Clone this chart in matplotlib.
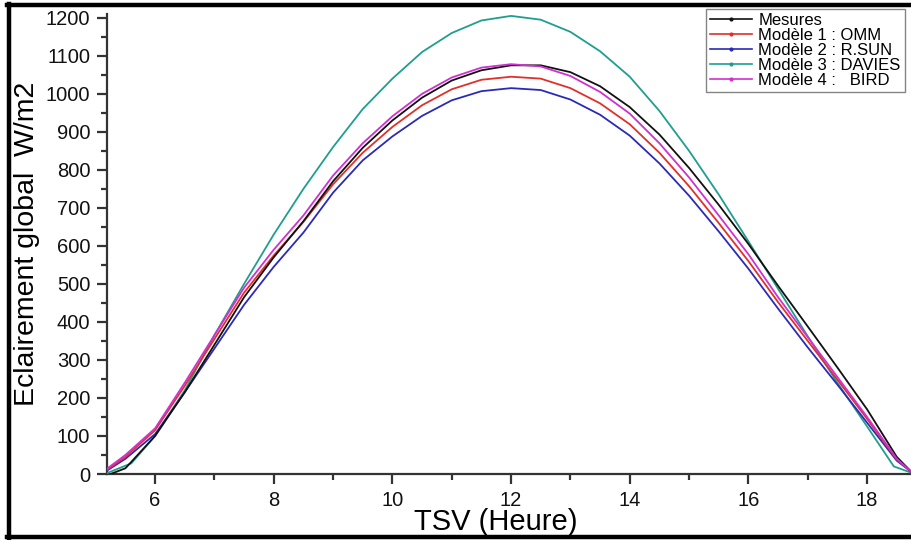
import matplotlib
matplotlib.use("Agg")
import matplotlib.pyplot as plt
from matplotlib.lines import Line2D
from matplotlib.ticker import MultipleLocator

plt.rcParams['font.family'] = ['Liberation Sans', 'DejaVu Sans']

# Hours (TSV)
t_mes = [5.25, 5.5, 6.0, 6.5, 7.0, 7.5, 8.0, 8.5, 9.0, 9.5, 10.0, 10.5, 11.0, 11.5, 12.0,
         12.5, 13.0, 13.5, 14.0, 14.5, 15.0, 15.5, 16.0, 16.5, 17.0, 17.5, 18.0, 18.5, 18.75]
mesures = [0, 15, 100, 215, 340, 465, 570, 665, 770, 858, 930, 990, 1035, 1062, 1075,
           1075, 1057, 1020, 965, 893, 805, 708, 605, 495, 388, 280, 170, 45, 5]

t_mod = [5.2, 5.5, 6.0, 6.5, 7.0, 7.5, 8.0, 8.5, 9.0, 9.5, 10.0, 10.5, 11.0, 11.5, 12.0,
         12.5, 13.0, 13.5, 14.0, 14.5, 15.0, 15.5, 16.0, 16.5, 17.0, 17.5, 18.0, 18.5, 18.75]
omm = [12, 45, 115, 232, 355, 477, 575, 663, 762, 845, 913, 970, 1012, 1037, 1045,
       1040, 1015, 975, 920, 845, 757, 660, 560, 452, 350, 248, 145, 38, 5]
rsun = [10, 40, 105, 215, 330, 445, 545, 635, 740, 825, 888, 942, 983, 1007, 1015,
        1010, 985, 945, 890, 817, 732, 638, 540, 435, 333, 235, 135, 35, 5]
bird = [15, 50, 120, 240, 365, 490, 590, 680, 785, 870, 941, 1000, 1043, 1069, 1078,
        1072, 1047, 1005, 948, 870, 780, 680, 578, 465, 360, 255, 150, 40, 5]

t_dav = [5.2, 5.6, 6.0, 6.5, 7.0, 7.5, 8.0, 8.5, 9.0, 9.5, 10.0, 10.5, 11.0, 11.5, 12.0,
         12.5, 13.0, 13.5, 14.0, 14.5, 15.0, 15.5, 16.0, 16.5, 17.0, 17.5, 18.0, 18.45, 18.75]
davies = [3, 28, 100, 220, 365, 500, 630, 750, 860, 960, 1040, 1110, 1160, 1193, 1205,
          1195, 1163, 1112, 1045, 955, 850, 735, 612, 487, 362, 240, 125, 20, 3]

labels = ["Mesures", "Modèle 1 : OMM", "Modèle 2 : R.SUN", "Modèle 3 : DAVIES", "Modèle 4 :   BIRD"]
colors = ["#111111", "#e0302a", "#2a2ab8", "#1f9e8e", "#d030d0"]

x_ticks = [6, 8, 10, 12, 14, 16, 18]
y_ticks = [0, 100, 200, 300, 400, 500, 600, 700, 800, 900, 1000, 1100, 1200]

W, H = 911, 540
fig = plt.figure(figsize=(W / 100, H / 100), dpi=100)
ax = fig.add_axes([107 / W, 1 - 474 / H, 1 - 107 / W, (474 - 14) / H])

series = [(t_mes, mesures), (t_mod, omm), (t_mod, rsun), (t_dav, davies), (t_mod, bird)]
order = [3, 2, 1, 0, 4]
for i in order:
    tx, vy = series[i]
    ax.plot(tx, vy, color=colors[i], lw=1.3, zorder=3 + (i == 4))

ax.set_xlim(5.19, 18.74)
ax.set_ylim(0, 1210)
ax.set_xticks(x_ticks)
ax.set_yticks(y_ticks)
ax.xaxis.set_minor_locator(MultipleLocator(1))
ax.yaxis.set_minor_locator(MultipleLocator(50))

for s in ["top", "right"]:
    ax.spines[s].set_visible(False)
for s in ["left", "bottom"]:
    ax.spines[s].set_color("#333333")
    ax.spines[s].set_linewidth(1.6)

ax.tick_params(which="major", direction="out", length=7, width=1.6, colors="#333333",
               labelsize=14.5, labelcolor="#111111", pad=5)
ax.tick_params(which="minor", direction="out", length=4, width=1.6, colors="#333333")

ax.set_xlabel("TSV (Heure)", fontsize=21)
ax.set_ylabel("Eclairement global  W/m2", fontsize=20.5)
ax.xaxis.set_label_coords((496 - 107) / 804, -(508 - 474) / 460)
ax.yaxis.set_label_coords(-(107 - 40) / 804, (474 - 244) / 460)

handles = [Line2D([0], [0], color=c, lw=1.2, marker='o', markersize=2) for c in colors]
leg = fig.legend(handles, labels, loc="upper left", bbox_to_anchor=(706 / W, 1 - 9 / H),
                 fontsize=12, frameon=True, fancybox=False, edgecolor="#666666",
                 borderpad=0.25, labelspacing=0.0, handlelength=2.5, handletextpad=0.4,
                 borderaxespad=0)
leg.get_frame().set_linewidth(1.0)

# figure frame (thick black border)
lw = 3.2
fig.add_artist(Line2D([9 / W, 9 / W], [2 / H, 1 - 4 / H], transform=fig.transFigure, color="black", lw=lw))
fig.add_artist(Line2D([7 / W, 1.01], [1 - 5 / H, 1 - 5 / H], transform=fig.transFigure, color="black", lw=lw))
fig.add_artist(Line2D([7 / W, 1.01], [3 / H, 3 / H], transform=fig.transFigure, color="black", lw=lw))

fig.savefig("out.png", dpi=100)
